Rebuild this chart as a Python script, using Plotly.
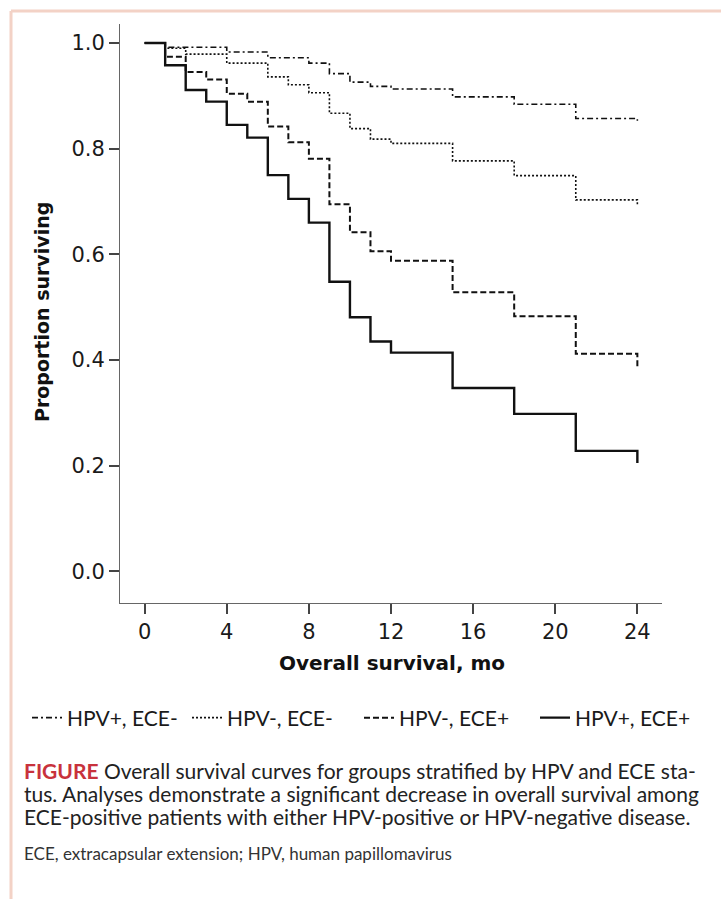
import plotly.graph_objects as go

# ---- data ----
months_solid = [0, 1, 2, 3, 4, 5, 6, 7, 8, 9, 10, 11, 12, 15, 18, 21, 24, 24]
surv_hpvpos_ecepos = [1.0, 0.958, 0.911, 0.889, 0.845, 0.821, 0.750, 0.705, 0.660,
                      0.548, 0.481, 0.435, 0.414, 0.347, 0.298, 0.228, 0.228, 0.205]

months_dashed = [0, 1, 2, 3, 4, 5, 6, 7, 8, 9, 10, 11, 12, 15, 18, 21, 24, 24]
surv_hpvneg_ecepos = [1.0, 0.974, 0.945, 0.931, 0.904, 0.889, 0.842, 0.812, 0.781,
                      0.695, 0.642, 0.606, 0.588, 0.528, 0.483, 0.412, 0.412, 0.386]

months_dotted = [0, 1, 2, 4, 6, 7, 8, 9, 10, 11, 12, 15, 18, 21, 24, 24]
surv_hpvneg_eceneg = [1.0, 0.990, 0.979, 0.962, 0.936, 0.921, 0.906, 0.867, 0.838,
                      0.818, 0.810, 0.777, 0.749, 0.703, 0.703, 0.691]

months_dashdot = [0, 1, 4, 6, 8, 9, 10, 11, 12, 15, 18, 21, 24, 24]
surv_hpvpos_eceneg = [1.0, 0.992, 0.983, 0.972, 0.962, 0.942, 0.926, 0.918, 0.913,
                      0.898, 0.884, 0.857, 0.857, 0.853]

series_names = ["HPV+, ECE-", "HPV-, ECE-", "HPV-, ECE+", "HPV+, ECE+"]
x_ticks = [0, 4, 8, 12, 16, 20, 24]
y_ticks = [0.0, 0.2, 0.4, 0.6, 0.8, 1.0]
y_tick_labels = ["0.0", "0.2", "0.4", "0.6", "0.8", "1.0"]

caption_lines = [
    "<b><span style='color:#c8323c'>FIGURE</span></b> Overall survival curves for groups stratified by HPV and ECE sta-",
    "tus. Analyses demonstrate a significant decrease in overall survival among",
    "ECE-positive patients with either HPV-positive or HPV-negative disease.",
]
footnote = "ECE, extracapsular extension; HPV, human papillomavirus"

# ---- layout geometry ----
W, H = 721, 899
L, R, T, B = 120, 59, 24, 296
PW, PH = W - L - R, H - T - B
FONT = "Lato"
GEO = "DejaVu Sans"


def px(x):
    return (x - L) / PW


def py(y):
    return (H - B - y) / PH


fig = go.Figure()

styles = [
    (months_dashdot, surv_hpvpos_eceneg, series_names[0], "6px,3px,2px,3px", 1.6),
    (months_dotted, surv_hpvneg_eceneg, series_names[1], "2px,2px", 1.6),
    (months_dashed, surv_hpvneg_ecepos, series_names[2], "6px,3px", 2.0),
    (months_solid, surv_hpvpos_ecepos, series_names[3], "solid", 2.4),
]
legend_ids = ["legend", "legend2", "legend3", "legend4"]
legend_text_x = [70, 230, 402, 578]
for (xs, ys, name, dash, w), lid in zip(styles, legend_ids):
    fig.add_trace(go.Scatter(
        x=xs, y=ys, name=name, mode="lines", legend=lid,
        line=dict(color="#111111", width=w, dash=dash, shape="hv"),
    ))

fig.update_layout(
    width=W, height=H,
    margin=dict(l=L, r=R, t=T, b=B, autoexpand=False),
    paper_bgcolor="white", plot_bgcolor="white",
    font=dict(family=FONT, color="#1a1a1a", size=17),
    showlegend=True,
)
for lid, tx in zip(legend_ids, legend_text_x):
    fig.update_layout({lid: dict(
        orientation="h", x=px(tx - 43), xanchor="left", y=py(718), yanchor="middle",
        font=dict(family=FONT, size=21, color="#1a1a1a"),
        itemwidth=30, bgcolor="rgba(0,0,0,0)",
    )})

fig.update_xaxes(
    range=[-1.2, 25.2], tickmode="array", tickvals=x_ticks,
    showgrid=False, zeroline=False, showline=True, linecolor="#666666", linewidth=1,
    ticks="outside", ticklen=10, tickcolor="#444444", tickwidth=1.5,
    tickfont=dict(family=GEO, size=21, color="#1a1a1a"), automargin=False,
)
fig.update_yaxes(
    range=[-0.06, 1.036], tickmode="array", tickvals=y_ticks, ticktext=y_tick_labels,
    showgrid=False, zeroline=False, showline=True, linecolor="#666666", linewidth=1,
    ticks="outside", ticklen=10, tickcolor="#444444", tickwidth=1.5,
    tickfont=dict(family=GEO, size=21, color="#1a1a1a"), automargin=False,
)

annotations = [
    dict(text="<b>Overall survival, mo</b>", x=px(392), y=py(663), xref="paper", yref="paper",
         showarrow=False, xanchor="center", yanchor="middle",
         font=dict(family=GEO, size=20, color="#111111")),
    dict(text="<b>Proportion surviving</b>", x=px(42), y=py(312), xref="paper", yref="paper",
         showarrow=False, xanchor="center", yanchor="middle", textangle=-90,
         font=dict(family=GEO, size=19, color="#111111")),
]
for i, line in enumerate(caption_lines):
    annotations.append(dict(
        text=line, x=px(22), y=py(770 + i * 23), xref="paper", yref="paper",
        showarrow=False, xanchor="left", yanchor="middle", align="left",
        font=dict(family=FONT, size=21, color="#222222")))
annotations.append(dict(
    text=footnote, x=px(22), y=py(853), xref="paper", yref="paper",
    showarrow=False, xanchor="left", yanchor="middle", align="left",
    font=dict(family=FONT, size=17, color="#333333")))
fig.update_layout(annotations=annotations)

border = "#f3d2c6"
fig.update_layout(shapes=[
    dict(type="line", xref="paper", yref="paper", x0=px(11), x1=px(11), y0=py(H), y1=py(11),
         line=dict(color=border, width=3)),
    dict(type="line", xref="paper", yref="paper", x0=px(11), x1=px(W), y0=py(11), y1=py(11),
         line=dict(color=border, width=3)),
])

fig.write_html("out.html", config={"displayModeBar": False},
               post_script="document.body.style.margin='0px';document.body.style.overflow='hidden';")
